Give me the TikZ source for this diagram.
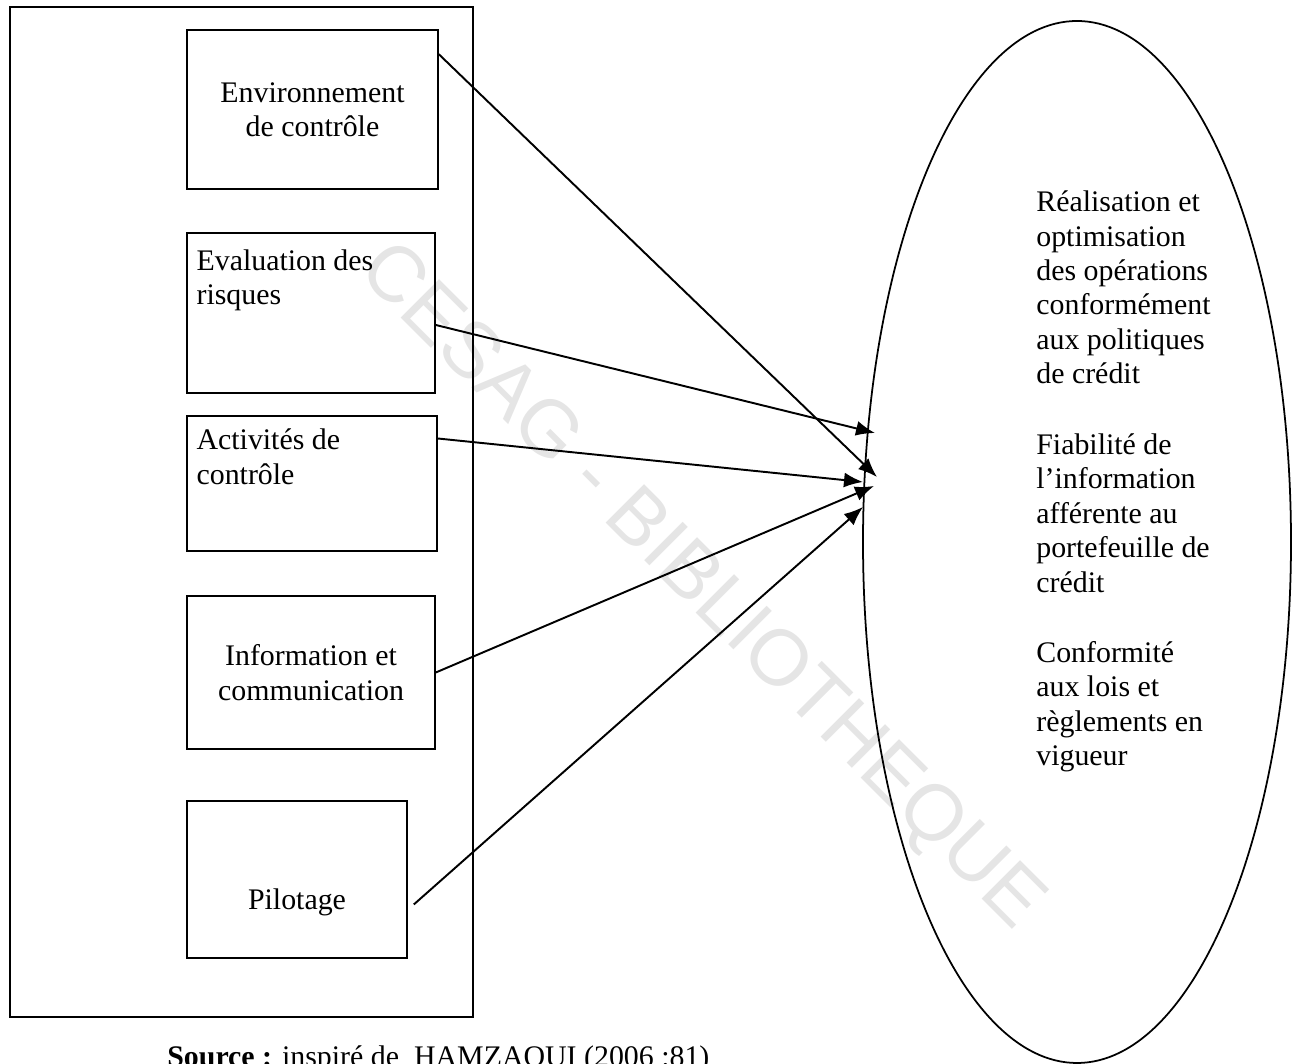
\documentclass[tikz,border=0pt]{standalone}
\usepackage{fontspec}
\setmainfont{Liberation Serif}
\newfontfamily\filigranefont{Liberation Sans}
\usepackage{tikz}
\usetikzlibrary{
    arrows.meta,
    positioning,
    shapes.geometric
}

\begin{document}
\begin{tikzpicture}[
    bloc/.style={draw, line width=0.9pt, minimum width=5cm, inner sep=0pt},
    texte/.style={font=\fontsize{17}{19.6}\selectfont, align=left, inner sep=0pt},
    fleche/.style={-{Latex[length=3.8mm,width=3mm]}, line width=1.1pt}
]
  \useasboundingbox (0,0) rectangle (25.86,21.28);

  % Filigrane
  \node[rotate=-45, text=gray!20, font=\filigranefont\fontsize{45}{50}\selectfont] (filigrane) at (14.0,9.52) {CESAG - BIBLIOTHEQUE};

  % Cadre des composantes
  \node[draw, line width=0.9pt, minimum width=9.26cm, minimum height=20.2cm, inner sep=0pt] (cadre) at (4.83,11.04) {};

  % Composantes
  \node[bloc, texte, align=center, minimum width=5.02cm, minimum height=3.18cm] (env) at (6.25,19.09) {Environnement\\de contrôle};

  \node[bloc, minimum width=4.96cm, minimum height=3.2cm] (eval) at (6.22,15.02) {};
  \node[texte, below right=0.34cm and 0.2cm of eval.north west] (evaltxt) {Evaluation des\\risques};

  \node[bloc, minimum height=2.7cm] (act) at (6.24,11.61) {};
  \node[texte, below right=0.27cm and 0.2cm of act.north west] (acttxt) {Activités de\\contrôle};

  \node[bloc, texte, align=center, minimum width=4.96cm, minimum height=3.06cm] (info) at (6.22,7.83) {Information et\\communication};

  \node[bloc, minimum width=4.4cm, minimum height=3.14cm] (pilot) at (5.94,3.69) {};
  \node[texte, below=0.17cm of pilot.center] (pilottxt) {Pilotage};

  % Objectifs
  \node[draw, ellipse, line width=1pt, minimum width=8.56cm, minimum height=20.84cm, inner sep=0pt] (objectifs) at (21.54,10.44) {};
  \node[texte, anchor=north west] (objtxt) at (20.72,17.47) {Réalisation et\\optimisation\\des opérations\\conformément\\aux politiques\\de crédit\\[0.72cm]Fiabilité de\\l’information\\afférente au\\portefeuille de\\crédit\\[0.72cm]Conformité\\aux lois et\\règlements en\\vigueur};

  % Points d'arrivee
  \coordinate (pEnv) at (17.54,11.74);
  \coordinate (pEval) at (17.50,12.62);
  \coordinate (pAct) at (17.26,11.64);
  \coordinate (pInfo) at (17.48,11.56);
  \coordinate (pPilot) at (17.26,11.14);

  % Fleches
  \draw[fleche] ([yshift=-0.5cm]env.north east) -- (pEnv);
  \draw[fleche] ([yshift=-0.24cm]eval.east) -- (pEval);
  \draw[fleche] ([yshift=0.9cm]act.east) -- (pAct);
  \draw[fleche] (info.east) -- (pInfo);
  \draw[fleche] ([xshift=0.12cm,yshift=-0.5cm]pilot.east) -- (pPilot);

  % Source
  \node[texte, anchor=base west] (source) at (3.34,-0.06) {\textbf{Source :} inspiré de\ \ HAMZAOUI (2006 :81)};
\end{tikzpicture}
\end{document}
